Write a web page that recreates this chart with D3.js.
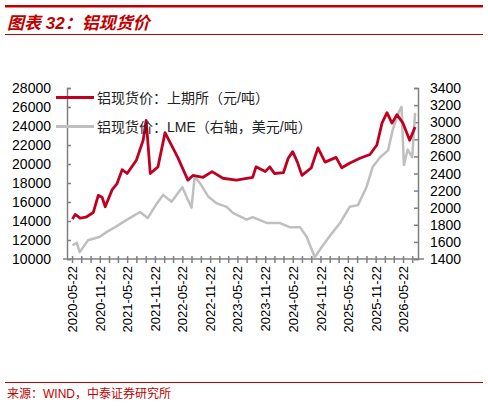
<!DOCTYPE html>
<html><head><meta charset="utf-8">
<script src="https://cdn.jsdelivr.net/npm/d3@7"></script>
<style>body{margin:0;background:#fff}text{font-family:"Liberation Sans",Arial,"Noto Sans CJK SC",sans-serif}</style>
</head><body><svg id="c" width="488" height="406"></svg>
<script>
// SHFE aluminium spot (CNY/t)
const shfeDates = ["2020-05-25","2020-06-12","2020-07-15","2020-08-22","2020-10-10","2020-11-12","2020-12-07","2020-12-28","2021-02-12","2021-03-15","2021-04-19","2021-05-22","2021-07-22","2021-09-05","2021-09-25","2021-10-22","2021-12-12","2022-01-28","2022-03-01","2022-04-22","2022-06-28","2022-07-31","2022-10-07","2022-12-05","2023-02-15","2023-05-15","2023-08-31","2023-09-22","2023-11-22","2023-12-22","2024-01-22","2024-03-22","2024-04-22","2024-05-22","2024-06-22","2024-07-22","2024-09-22","2024-11-05","2024-12-22","2025-03-05","2025-04-12","2025-06-05","2025-08-10","2025-10-15","2025-11-30","2026-01-03","2026-02-05","2026-03-10","2026-04-12","2026-05-22","2026-07-05","2026-08-10"];
const shfeValues = [14200,14700,14300,14400,14900,16700,16500,15500,17300,17900,19400,19000,20400,22500,24600,19000,19700,23300,22300,20700,18300,18800,18600,19200,18500,18300,18600,19700,19200,19700,19000,19100,20600,21300,20200,18800,19600,21700,20200,20700,19600,20100,20600,21000,22000,24300,25400,24300,25200,24300,22500,23900];
// LME aluminium spot (USD/t, right axis)
const lmeDates = ["2020-05-25","2020-06-22","2020-07-12","2020-09-05","2020-11-22","2021-01-10","2021-03-01","2021-05-22","2021-08-15","2021-10-05","2021-12-05","2022-01-15","2022-03-12","2022-05-22","2022-07-22","2022-08-12","2022-09-15","2022-11-10","2023-01-05","2023-03-12","2023-04-22","2023-07-22","2023-08-31","2023-12-05","2024-02-28","2024-05-05","2024-07-10","2024-08-22","2024-10-15","2024-11-30","2025-02-05","2025-03-31","2025-06-03","2025-07-28","2025-09-22","2025-11-03","2025-12-22","2026-02-12","2026-03-15","2026-04-22","2026-05-12","2026-05-28","2026-06-22","2026-07-22","2026-08-10"];
const lmeValues = [1560,1590,1480,1620,1660,1720,1770,1860,1950,1880,2050,2150,2070,2240,2000,2360,2290,2130,2050,2010,1940,1860,1890,1820,1820,1770,1770,1660,1420,1540,1700,1820,2010,2030,2240,2480,2590,2670,2910,3110,3180,2500,2680,2590,3110];

const leftTicks = [10000,12000,14000,16000,18000,20000,22000,24000,26000,28000];
const rightTicks = [1400,1600,1800,2000,2200,2400,2600,2800,3000,3200,3400];
const xLabels = ["2020-05-22","2020-11-22","2021-05-22","2021-11-22","2022-05-22","2022-11-22","2023-05-22","2023-11-22","2024-05-22","2024-11-22","2025-05-22","2025-11-22","2026-05-22"];

const svg = d3.select("#c");
const red = "#c00020", grey = "#bfbfbf", axisC = "#808080";
const pt = d3.timeParse("%Y-%m-%d");

// header
svg.append("rect").attr("x",5).attr("y",5).attr("width",478).attr("height",2.5).attr("fill","#c00000");
svg.append("text").attr("x",7).attr("y",29).attr("fill","#c00000").attr("font-size",17).attr("font-weight","bold").attr("font-style","italic").text("图表 32：铝现货价");
svg.append("rect").attr("x",5).attr("y",34).attr("width",478).attr("height",1).attr("fill","#c00000");
svg.append("rect").attr("x",5).attr("y",382).attr("width",478).attr("height",1).attr("fill","#c00000");
svg.append("text").attr("x",7).attr("y",398).attr("fill","#c00000").attr("font-size",12).text("来源：WIND，中泰证券研究所");

const x = d3.scaleTime().domain([pt("2020-05-22"), pt("2026-05-22")]).range([72, 403]);
const yL = d3.scaleLinear().domain([10000, 28000]).range([259, 88]);
const yR = d3.scaleLinear().domain([1400, 3400]).range([259, 88]);

// axes
const gL = svg.append("g").attr("transform","translate(67,0)")
  .call(d3.axisRight(yL).tickValues(leftTicks).tickSize(4).tickFormat(""));
const gR = svg.append("g").attr("transform","translate(418,0)")
  .call(d3.axisLeft(yR).tickValues(rightTicks).tickSize(4).tickFormat(""));
const minor = d3.timeMonth.every(2).range(pt("2020-05-01"), pt("2026-09-01")).map(d => d3.timeDay.offset(d, 21));
const gB = svg.append("g").attr("transform","translate(0,259)")
  .call(d3.axisBottom(x).tickValues(minor).tickSize(4).tickFormat(""));
gB.selectAll(".tick line").attr("y1",-3);
gB.select(".domain").attr("d","M63,0H424");
[gL,gR,gB].forEach(g => { g.selectAll("path,line").attr("stroke",axisC).attr("stroke-width",1.5); });

svg.selectAll(".lt").data(leftTicks).join("text").attr("x",51).attr("y",d=>yL(d)+5)
  .attr("text-anchor","end").attr("font-size",14).attr("fill","#000").text(d=>d);
svg.selectAll(".rt").data(rightTicks).join("text").attr("x",430).attr("y",d=>yR(d)+5)
  .attr("font-size",14).attr("fill","#000").text(d=>d);
svg.selectAll(".xt").data(xLabels).join("text")
  .attr("transform",d=>`translate(${x(pt(d))+5},266) rotate(-90)`)
  .attr("text-anchor","end").attr("font-size",13).attr("fill","#000").text(d=>d);

// lines
const lmeLine = d3.line().x((d,i)=>x(pt(lmeDates[i]))).y(d=>yR(d));
const shfeLine = d3.line().x((d,i)=>x(pt(shfeDates[i]))).y(d=>yL(d));
svg.append("path").datum(lmeValues).attr("d",lmeLine).attr("fill","none").attr("stroke",grey).attr("stroke-width",2.5).attr("stroke-linejoin","round");
svg.append("path").datum(shfeValues).attr("d",shfeLine).attr("fill","none").attr("stroke",red).attr("stroke-width",2.8).attr("stroke-linejoin","round");

// legend
const leg = [["铝现货价：上期所（元/吨）", red, 98], ["铝现货价：LME（右轴，美元/吨）", grey, 127]];
leg.forEach(([t,c,y]) => {
  svg.append("rect").attr("x",56).attr("y",y-2).attr("width",38).attr("height",3).attr("fill",c);
  svg.append("text").attr("x",97).attr("y",y+5).attr("font-size",14).attr("fill","#222").text(t);
});
</script></body></html>
